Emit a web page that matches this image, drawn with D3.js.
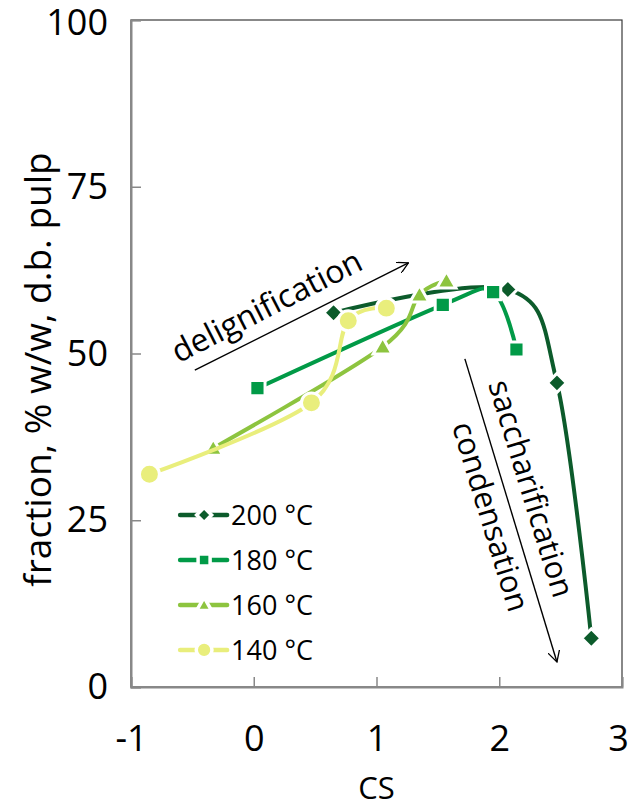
<!DOCTYPE html>
<html>
<head>
<meta charset="utf-8">
<script src="https://cdn.jsdelivr.net/npm/d3@7"></script>
<style>
    body { margin: 0; background: #fff; }
    text { font-family: "Open Sans", sans-serif; fill: #000; }
</style>
</head>
<body>
<div id="chart"></div>
<script>
//Datos
const SERIES = ['200 °C', '180 °C', '160 °C', '140 °C'];
const CS_200 = [0.65, 2.07, 2.47, 2.75];
const FR_200 = [56.1, 59.6, 45.6, 7.3];
const CS_180 = [0.03, 1.54, 1.95, 2.14];
const FR_180 = [44.8, 57.3, 59.2, 50.6];
const CS_160 = [-0.33, 1.05, 1.35, 1.57];
const FR_160 = [35.8, 51.0, 58.8, 60.9];
const CS_140 = [-0.85, 0.47, 0.77, 1.08];
const FR_140 = [31.9, 42.6, 54.9, 56.8];
const X_TICKS = [-1, 0, 1, 2, 3];
const Y_TICKS = [0, 25, 50, 75, 100];

//Colores fijos
const COLORS = ['#0c5b2b', '#019a47', '#8dc43f', '#e9ee7c'];
const SHAPES = ['diamond', 'square', 'triangle', 'circle'];

let data = [
    { name: SERIES[0], cs: CS_200, fr: FR_200 },
    { name: SERIES[1], cs: CS_180, fr: FR_180 },
    { name: SERIES[2], cs: CS_160, fr: FR_160 },
    { name: SERIES[3], cs: CS_140, fr: FR_140 }
].map(function(s, i) {
    return { name: s.name, color: COLORS[i], shape: SHAPES[i], values: s.cs.map(function(c, j) { return { cs: c, fr: s.fr[j] }; }) };
});

///valores iniciales de altura, anchura y márgenes
let margin = {top: 20, right: 8, bottom: 122, left: 131},
    width = 630 - margin.left - margin.right,
    height = 809 - margin.top - margin.bottom;

let svg = d3.select('#chart')
    .append('svg')
        .attr('width', width + margin.left + margin.right)
        .attr('height', height + margin.top + margin.bottom)
    .append('g')
        .attr('transform', 'translate(' + margin.left + ',' + margin.top + ')');

let x = d3.scaleLinear().domain([-1, 3]).range([0, width]);
let y = d3.scaleLinear().domain([0, 100]).range([height, 0]);

//Borde del área
svg.append('rect')
    .attr('width', width)
    .attr('height', height)
    .attr('fill', 'none')
    .attr('stroke', '#3a3a3a')
    .attr('stroke-width', 1.2);

let xAxis = function(g) {
    g.call(d3.axisBottom(x).tickValues(X_TICKS).tickSize(-10).tickPadding(38).tickFormat(function(d) { return String(d); }));
    g.select('.domain').attr('stroke', '#888').attr('stroke-width', 2);
    g.selectAll('.tick line').attr('stroke', '#888').attr('stroke-width', 1.5);
    g.selectAll('.tick text')
        .style('font-size', '36px')
        .attr('font-family', null)
        .attr('dx', function(d) { return d == 3 ? '-4' : null; });
};

let yAxis = function(g) {
    g.call(d3.axisLeft(y).tickValues(Y_TICKS).tickSize(-10).tickPadding(23));
    g.select('.domain').attr('stroke', '#888').attr('stroke-width', 2);
    g.selectAll('.tick line').attr('stroke', '#888').attr('stroke-width', 1.5);
    g.selectAll('.tick text')
        .style('font-size', '36px')
        .attr('font-family', null)
        .attr('dy', function(d) { return d == 100 ? '0.4em' : '0.32em'; });
};

svg.append('g').attr('transform', 'translate(0,' + height + ')').call(xAxis);
svg.append('g').call(yAxis);

//Títulos de ejes
svg.append('text')
    .attr('x', x(1))
    .attr('y', height + 112)
    .attr('text-anchor', 'middle')
    .style('font-size', '31px')
    .text('CS');

svg.append('text')
    .attr('transform', 'translate(' + (-80) + ',' + y(47.6) + ') rotate(-90)')
    .attr('text-anchor', 'middle')
    .style('font-size', '37px')
    .text('fraction, % w/w, d.b. pulp');

//Marcadores
function markerPath(shape, s) {
    if (shape == 'diamond') {
        return 'M0,' + (-s) + 'L' + s + ',0L0,' + s + 'L' + (-s) + ',0Z';
    } else if (shape == 'square') {
        let h = s * 0.8;
        return 'M' + (-h) + ',' + (-h) + 'H' + h + 'V' + h + 'H' + (-h) + 'Z';
    } else if (shape == 'triangle') {
        let h = s * 1.0;
        return 'M0,' + (-h) + 'L' + h + ',' + (h * 0.75) + 'L' + (-h) + ',' + (h * 0.75) + 'Z';
    }
    return d3.arc()({innerRadius: 0, outerRadius: s * 1.05, startAngle: 0, endAngle: 2 * Math.PI});
}

let line = d3.line()
    .curve(d3.curveCardinal.tension(0))
    .x(function(d) { return x(d.cs); })
    .y(function(d) { return y(d.fr); });

let series = svg.selectAll('.serie')
    .data(data)
    .enter()
    .append('g')
    .attr('class', 'serie');

series.append('path')
    .attr('d', function(d) { return line(d.values); })
    .attr('fill', 'none')
    .attr('stroke', function(d) { return d.color; })
    .attr('stroke-width', 4);

series.each(function(s) {
    d3.select(this).selectAll('.mk')
        .data(s.values)
        .enter()
        .append('path')
        .attr('class', 'mk')
        .attr('transform', function(d) { return 'translate(' + x(d.cs) + ',' + y(d.fr) + ')'; })
        .attr('d', markerPath(s.shape, 9.5))
        .attr('fill', s.color)
        .attr('stroke', '#fff')
        .attr('stroke-width', 3);
});

//Leyenda
let legend = svg.append('g')
    .selectAll('g')
    .data(data)
    .enter()
    .append('g')
    .attr('transform', function(d, i) { return 'translate(' + (x(-0.6)) + ',' + (y(25.8) + i * 45) + ')'; });

legend.append('line')
    .attr('x1', 0).attr('x2', 47)
    .attr('stroke', function(d) { return d.color; })
    .attr('stroke-width', 4.5)
    .attr('stroke-linecap', 'round');

legend.append('path')
    .attr('transform', 'translate(24,0)')
    .attr('d', function(d) { return markerPath(d.shape, 7.5); })
    .attr('fill', function(d) { return d.color; })
    .attr('stroke', '#fff')
    .attr('stroke-width', 3.5);

legend.append('text')
    .attr('x', 51)
    .attr('dy', '0.36em')
    .style('font-size', '27px')
    .text(function(d) { return d.name; });

//Anotaciones
svg.append('defs').append('marker')
    .attr('id', 'arrow')
    .attr('viewBox', '0 0 12 12')
    .attr('refX', 11).attr('refY', 6)
    .attr('markerWidth', 12).attr('markerHeight', 12)
    .attr('markerUnits', 'userSpaceOnUse')
    .attr('orient', 'auto')
    .append('path')
    .attr('d', 'M0,0L11,6L0,12')
    .attr('fill', 'none')
    .attr('stroke', '#000')
    .attr('stroke-width', 1.3);

function arrow(x1, y1, x2, y2) {
    svg.append('line')
        .attr('x1', x(x1)).attr('y1', y(y1))
        .attr('x2', x(x2)).attr('y2', y(y2))
        .attr('stroke', '#000')
        .attr('stroke-width', 1.4)
        .attr('marker-end', 'url(#arrow)');
}

function label(txt, cx, cy, angle, size) {
    svg.append('text')
        .attr('transform', 'translate(' + x(cx) + ',' + y(cy) + ') rotate(' + angle + ')')
        .attr('text-anchor', 'middle')
        .attr('dominant-baseline', 'central')
        .style('font-size', size + 'px')
        .text(txt);
}

arrow(-0.48, 47.5, 1.26, 63.6);
arrow(1.72, 49.2, 2.47, 3.75);
label('delignification', 0.10, 57.3, -27, 32);
label('saccharification', 2.27, 29.8, 73, 31);
label('condensation', 1.94, 25.6, 73, 31);
</script>
</body>
</html>
